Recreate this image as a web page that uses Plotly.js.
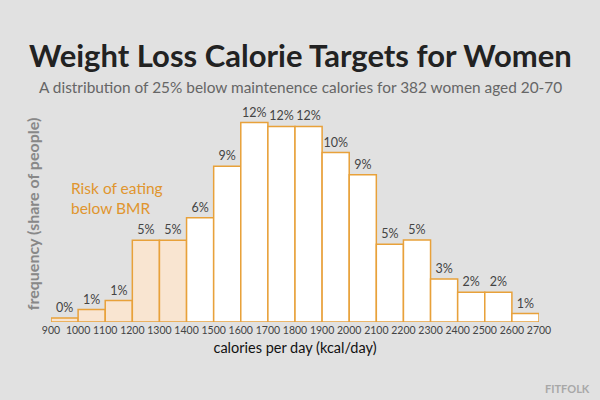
<!DOCTYPE html>
<html>
<head>
<meta charset="utf-8">
<script src="https://cdn.plot.ly/plotly-3.0.1.min.js"></script>
<style>html,body{margin:0;padding:0;background:#e1e1e1;}#chart{width:600px;height:400px;}</style>
</head>
<body>
<div id="chart"></div>
<script>
// Bin starts (kcal/day), each bin 100 kcal wide
var binStarts = [900, 1000, 1100, 1200, 1300, 1400, 1500, 1600, 1700, 1800, 1900, 2000, 2100, 2200, 2300, 2400, 2500, 2600];
// Share of people (%)
var shares = [0.24, 0.75, 1.29, 4.92, 4.92, 6.27, 9.38, 12.0, 11.77, 11.77, 10.2, 8.86, 4.68, 4.94, 2.59, 1.79, 1.79, 0.51];
// Printed labels
var labels = ["0%", "1%", "1%", "5%", "5%", "6%", "9%", "12%", "12%", "12%", "10%", "9%", "5%", "5%", "3%", "2%", "2%", "1%"];
// Bins below BMR risk
var belowBMR = [true, true, true, true, true, false, false, false, false, false, false, false, false, false, false, false, false, false];
var tickVals = [900, 1000, 1100, 1200, 1300, 1400, 1500, 1600, 1700, 1800, 1900, 2000, 2100, 2200, 2300, 2400, 2500, 2600, 2700];

var orange = '#e8a13a';
var fills = belowBMR.map(function(b){ return b ? '#f9e5d1' : '#ffffff'; });

var trace = {
  type: 'bar',
  x: binStarts,
  y: shares,
  width: 100,
  offset: 0,
  text: labels,
  textposition: 'outside',
  cliponaxis: false,
  textfont: {family: 'Lato, sans-serif', size: 12.5, color: '#444'},
  marker: {color: fills, line: {color: orange, width: 1.5}},
  hoverinfo: 'skip'
};

var layout = {
  width: 600, height: 400,
  paper_bgcolor: '#e1e1e1',
  plot_bgcolor: '#e1e1e1',
  margin: {l: 51, r: 61, t: 106, b: 78},
  showlegend: false,
  bargap: 0,
  font: {family: 'Lato, sans-serif'},
  xaxis: {
    range: [900, 2700],
    tickvals: tickVals,
    ticktext: tickVals.map(String),
    tickfont: {family: 'Lato, sans-serif', size: 10.5, color: '#444'},
    showgrid: false, zeroline: false, showline: false, ticks: '',
    title: {text: 'calories per day (kcal/day)', font: {family: 'Lato, sans-serif', size: 14.5, color: '#111'}, standoff: 8}
  },
  yaxis: {
    range: [0, 13],
    showgrid: false, zeroline: false, showline: false, showticklabels: false, ticks: '',
    title: {text: '<b>frequency (share of people)</b>', font: {family: 'Lato, sans-serif', size: 16, color: '#888'}, standoff: 6}
  },
  annotations: [
    {xref: 'paper', yref: 'paper', x: 0.5, y: 1, xanchor: 'center', yanchor: 'middle', showarrow: false,
     text: '<b>Weight Loss Calorie Targets for Women</b>',
     font: {family: 'Lato, sans-serif', size: 31, color: '#222'}},
    {xref: 'paper', yref: 'paper', x: 0.5, y: 1, xanchor: 'center', yanchor: 'middle', showarrow: false,
     text: 'A distribution of 25% below maintenence calories for 382 women aged 20-70',
     font: {family: 'Lato, sans-serif', size: 15.4, color: '#666'}},
    {xref: 'x', yref: 'y', x: 965, y: 7.46, xanchor: 'left', yanchor: 'middle', align: 'left', showarrow: false,
     text: 'Risk of eating<br>below BMR',
     font: {family: 'Lato, sans-serif', size: 15.5, color: '#e0952e'}},
    {xref: 'paper', yref: 'paper', x: 1, y: 0, xanchor: 'right', yanchor: 'middle', showarrow: false,
     text: '<b>FITFOLK</b>',
     font: {family: 'Lato, sans-serif', size: 11, color: '#a8a8a8'}}
  ]
};

// Place title/subtitle/watermark in pixel terms relative to the plot area
var plotH = 400 - 106 - 78, plotW = 600 - 51 - 61;
function py(pix){ return (400 - 78 - pix) / plotH; }
function px(pix){ return (pix - 51) / plotW; }
layout.annotations[0].y = py(55); layout.annotations[0].x = px(300);
layout.annotations[1].y = py(87); layout.annotations[1].x = px(300);
layout.annotations[3].y = py(388); layout.annotations[3].x = px(592);

Plotly.newPlot('chart', [trace], layout, {displayModeBar: false, staticPlot: true});
</script>
</body>
</html>
